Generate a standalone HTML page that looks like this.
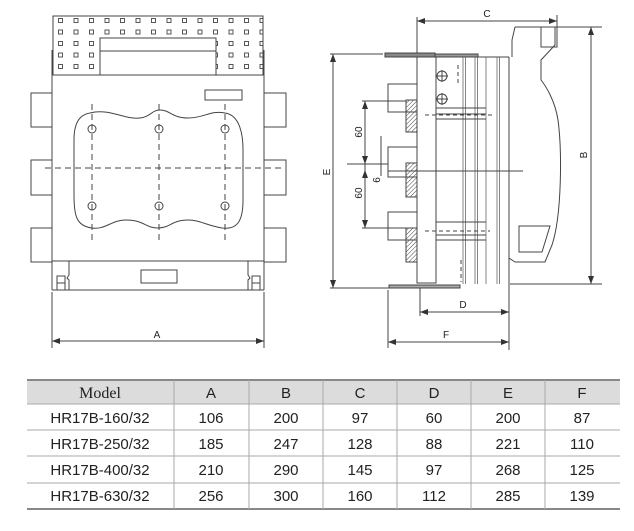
<!DOCTYPE html>
<html><head><meta charset="utf-8"><style>
body{margin:0;background:#fff;width:634px;height:531px;overflow:hidden}
svg{display:block}
text{font-family:"Liberation Sans",sans-serif;fill:#222}
</style></head><body>
<svg width="634" height="531" viewBox="0 0 634 531" xmlns="http://www.w3.org/2000/svg">
<defs>
<pattern id="h" width="3" height="3" patternUnits="userSpaceOnUse" patternTransform="rotate(45)"><line x1="0" y1="0" x2="0" y2="3" stroke="#444" stroke-width="1"/></pattern>
<pattern id="sq" x="58" y="18" width="15.5" height="11.5" patternUnits="userSpaceOnUse"><rect x="0.5" y="0.5" width="4" height="4" fill="none" stroke="#444" stroke-width="0.9"/></pattern>
</defs>
<g fill="none" stroke="#444" stroke-width="1">
<rect x="53" y="16" width="210" height="59" fill="url(#sq)"/>
<rect x="100" y="38" width="116" height="37" fill="#fff"/>
<line x1="100" y1="51" x2="216" y2="51"/>
<line x1="52" y1="50" x2="52" y2="290"/><line x1="264" y1="50" x2="264" y2="290"/>
<line x1="52" y1="75" x2="264" y2="75"/>
<line x1="52" y1="261" x2="264" y2="261"/>
<line x1="52" y1="290" x2="264" y2="290"/>
<rect x="31" y="93" width="21" height="34"/><rect x="31" y="160" width="21" height="35"/><rect x="31" y="228" width="21" height="34"/>
<rect x="264" y="93" width="22" height="34"/><rect x="264" y="160" width="22" height="35"/><rect x="264" y="228" width="22" height="34"/>
<rect x="205" y="90" width="37" height="10"/>
<path d="M69 261 V275 L67 278 L69 280 V290 H248 V280 L250 278 L248 275 V261"/>
<rect x="141" y="270" width="36" height="13"/>
<rect x="57" y="276" width="8" height="14"/><line x1="57" y1="283" x2="65" y2="283"/>
<rect x="252" y="276" width="8" height="14"/><line x1="252" y1="283" x2="260" y2="283"/>
<path d="M90 113 C110 108 125 120 140 118 C150 117 152 110 160 110 C170 110 172 118 188 118 C205 118 210 110 225 113 C240 115 243 135 243 150 V200 C243 220 238 230 222 228 C205 225 200 220 188 220 C172 220 170 228 158 228 C145 228 145 220 125 220 C112 220 105 230 92 228 C76 226 74 215 74 195 V140 C74 125 78 115 90 113Z"/>
<g stroke-dasharray="6,4">
<line x1="45" y1="168" x2="285" y2="168"/>
<line x1="92" y1="104" x2="92" y2="242"/><line x1="159" y1="104" x2="159" y2="242"/><line x1="225" y1="104" x2="225" y2="242"/>
</g>
<g>
<circle cx="92" cy="129" r="4"/><circle cx="159" cy="129" r="4"/><circle cx="225" cy="129" r="4"/>
<circle cx="92" cy="206" r="4"/><circle cx="159" cy="206" r="4"/><circle cx="225" cy="206" r="4"/>
</g>
<line x1="52" y1="292" x2="52" y2="348"/><line x1="264" y1="292" x2="264" y2="348"/>
<line x1="52" y1="341" x2="264" y2="341"/>
<line x1="417" y1="17" x2="417" y2="57"/>
<line x1="417" y1="21" x2="557" y2="21"/><line x1="557" y1="15" x2="557" y2="27"/>
<line x1="515" y1="27" x2="602" y2="27"/><line x1="510" y1="284" x2="602" y2="284"/>
<line x1="591" y1="27" x2="591" y2="284"/>
<line x1="330" y1="54" x2="383" y2="54"/><line x1="330" y1="288" x2="390" y2="288"/>
<line x1="333" y1="54" x2="333" y2="288"/>
<rect x="385" y="53" width="50" height="4" fill="#888"/>
<rect x="435" y="54" width="43" height="3" fill="#999"/>
<rect x="417" y="57" width="19" height="226"/>
<line x1="436" y1="57" x2="509" y2="57"/>
<g stroke="#666" stroke-width="0.8">
<line x1="463" y1="57" x2="463" y2="284"/><line x1="465.5" y1="57" x2="465.5" y2="284"/>
<line x1="475" y1="57" x2="475" y2="284"/><line x1="477.5" y1="57" x2="477.5" y2="284"/>
<line x1="486" y1="57" x2="486" y2="284"/><line x1="497" y1="57" x2="497" y2="284"/><line x1="499.5" y1="57" x2="499.5" y2="284"/>
</g>
<line x1="509" y1="57" x2="509" y2="284"/>
<path d="M515 27 L512 40 V57 M509 258 L515 262 H545 L552 245 C562 215 562 150 558 120 C555 100 545 85 541 80 V60 L555 45 V27"/>
<path d="M519 226 H550 L542 252 H519 Z"/>
<rect x="541" y="27" width="16" height="20"/>
<rect x="388" y="84" width="29" height="28"/><rect x="388" y="147" width="29" height="30"/><rect x="388" y="212" width="29" height="28"/>
<rect x="406" y="100" width="11" height="32" fill="url(#h)"/><rect x="406" y="163" width="11" height="34" fill="url(#h)"/><rect x="406" y="228" width="11" height="34" fill="url(#h)"/>
<circle cx="442" cy="76" r="5"/><circle cx="442" cy="99" r="5"/>
<line x1="436" y1="76" x2="448" y2="76"/><line x1="442" y1="70" x2="442" y2="82"/>
<line x1="436" y1="99" x2="448" y2="99"/><line x1="442" y1="93" x2="442" y2="105"/>
<line x1="436" y1="108" x2="486" y2="108"/><line x1="436" y1="114" x2="486" y2="114"/><line x1="436" y1="119" x2="486" y2="119"/>
<line x1="436" y1="222" x2="486" y2="222"/><line x1="436" y1="235" x2="486" y2="235"/><line x1="436" y1="240" x2="486" y2="240"/>
<line x1="362" y1="101" x2="406" y2="101"/><line x1="362" y1="228" x2="406" y2="228"/>
<line x1="347" y1="164" x2="388" y2="164"/><line x1="388" y1="171" x2="523" y2="171"/>
<line x1="365" y1="101" x2="365" y2="228"/>
<line x1="381" y1="136" x2="381" y2="176"/>
<rect x="389" y="285" width="71" height="3" fill="#aaa"/>
<line x1="420" y1="288" x2="420" y2="316"/><line x1="509" y1="284" x2="509" y2="350"/>
<line x1="388" y1="290" x2="388" y2="348"/>
<line x1="420" y1="312" x2="509" y2="312"/><line x1="388" y1="342" x2="509" y2="342"/>
</g>
<g stroke="#444" stroke-dasharray="4,3" fill="none">
<line x1="458" y1="65" x2="458" y2="85"/><line x1="461" y1="260" x2="461" y2="282"/>
<line x1="425" y1="115" x2="492" y2="115"/><line x1="425" y1="231" x2="490" y2="231"/>
</g>
<g fill="#333">
<path d="M52 341 l8 -3 v6z"/><path d="M264 341 l-8 -3 v6z"/>
<path d="M417 21 l8 -3 v6z"/><path d="M557 21 l-8 -3 v6z"/>
<path d="M591 27 l-3 8 h6z"/><path d="M591 284 l-3 -8 h6z"/>
<path d="M333 54 l-3 8 h6z"/><path d="M333 288 l-3 -8 h6z"/>
<path d="M365 101 l-3 8 h6z"/><path d="M365 164 l-3 -8 h6z"/><path d="M365 170 l-3 8 h6z"/><path d="M365 228 l-3 -8 h6z"/>
<path d="M420 312 l8 -3 v6z"/><path d="M509 312 l-8 -3 v6z"/>
<path d="M388 342 l8 -3 v6z"/><path d="M509 342 l-8 -3 v6z"/>
</g>
<text x="157" y="338" font-size="10" text-anchor="middle">A</text>
<text x="487" y="17" font-size="10" text-anchor="middle">C</text>
<text x="463" y="308" font-size="10" text-anchor="middle">D</text>
<text x="446" y="338" font-size="10" text-anchor="middle">F</text>
<text transform="translate(330,172) rotate(-90)" font-size="10" text-anchor="middle">E</text>
<text transform="translate(587,155) rotate(-90)" font-size="10" text-anchor="middle">B</text>
<text transform="translate(362,132) rotate(-90)" font-size="10" text-anchor="middle">60</text>
<text transform="translate(362,193) rotate(-90)" font-size="10" text-anchor="middle">60</text>
<text transform="translate(380,180) rotate(-90)" font-size="10" text-anchor="middle">6</text>
<rect x="27" y="380" width="593" height="24" fill="#dcdcdc"/>
<line x1="27" y1="380" x2="620" y2="380" stroke="#888" stroke-width="2"/>
<line x1="27" y1="509" x2="620" y2="509" stroke="#888" stroke-width="2"/>
<g stroke="#aaa" stroke-width="1">
<line x1="27" y1="404" x2="620" y2="404"/><line x1="27" y1="430" x2="620" y2="430"/><line x1="27" y1="456" x2="620" y2="456"/><line x1="27" y1="483" x2="620" y2="483"/>
<line x1="174" y1="380" x2="174" y2="509"/><line x1="249" y1="380" x2="249" y2="509"/><line x1="323" y1="380" x2="323" y2="509"/><line x1="397" y1="380" x2="397" y2="509"/><line x1="471" y1="380" x2="471" y2="509"/><line x1="545" y1="380" x2="545" y2="509"/>
</g>
<g font-size="15" text-anchor="middle">
<text x="100" y="398" style="font-family:'Liberation Serif',serif" font-size="16">Model</text>
<text x="211" y="398">A</text><text x="286" y="398">B</text><text x="360" y="398">C</text><text x="434" y="398">D</text><text x="508" y="398">E</text><text x="582" y="398">F</text>
<text x="100" y="423">HR17B-160/32</text><text x="211" y="423">106</text><text x="286" y="423">200</text><text x="360" y="423">97</text><text x="434" y="423">60</text><text x="508" y="423">200</text><text x="582" y="423">87</text>
<text x="100" y="449">HR17B-250/32</text><text x="211" y="449">185</text><text x="286" y="449">247</text><text x="360" y="449">128</text><text x="434" y="449">88</text><text x="508" y="449">221</text><text x="582" y="449">110</text>
<text x="100" y="475">HR17B-400/32</text><text x="211" y="475">210</text><text x="286" y="475">290</text><text x="360" y="475">145</text><text x="434" y="475">97</text><text x="508" y="475">268</text><text x="582" y="475">125</text>
<text x="100" y="501">HR17B-630/32</text><text x="211" y="501">256</text><text x="286" y="501">300</text><text x="360" y="501">160</text><text x="434" y="501">112</text><text x="508" y="501">285</text><text x="582" y="501">139</text>
</g>
</svg>
</body></html>
